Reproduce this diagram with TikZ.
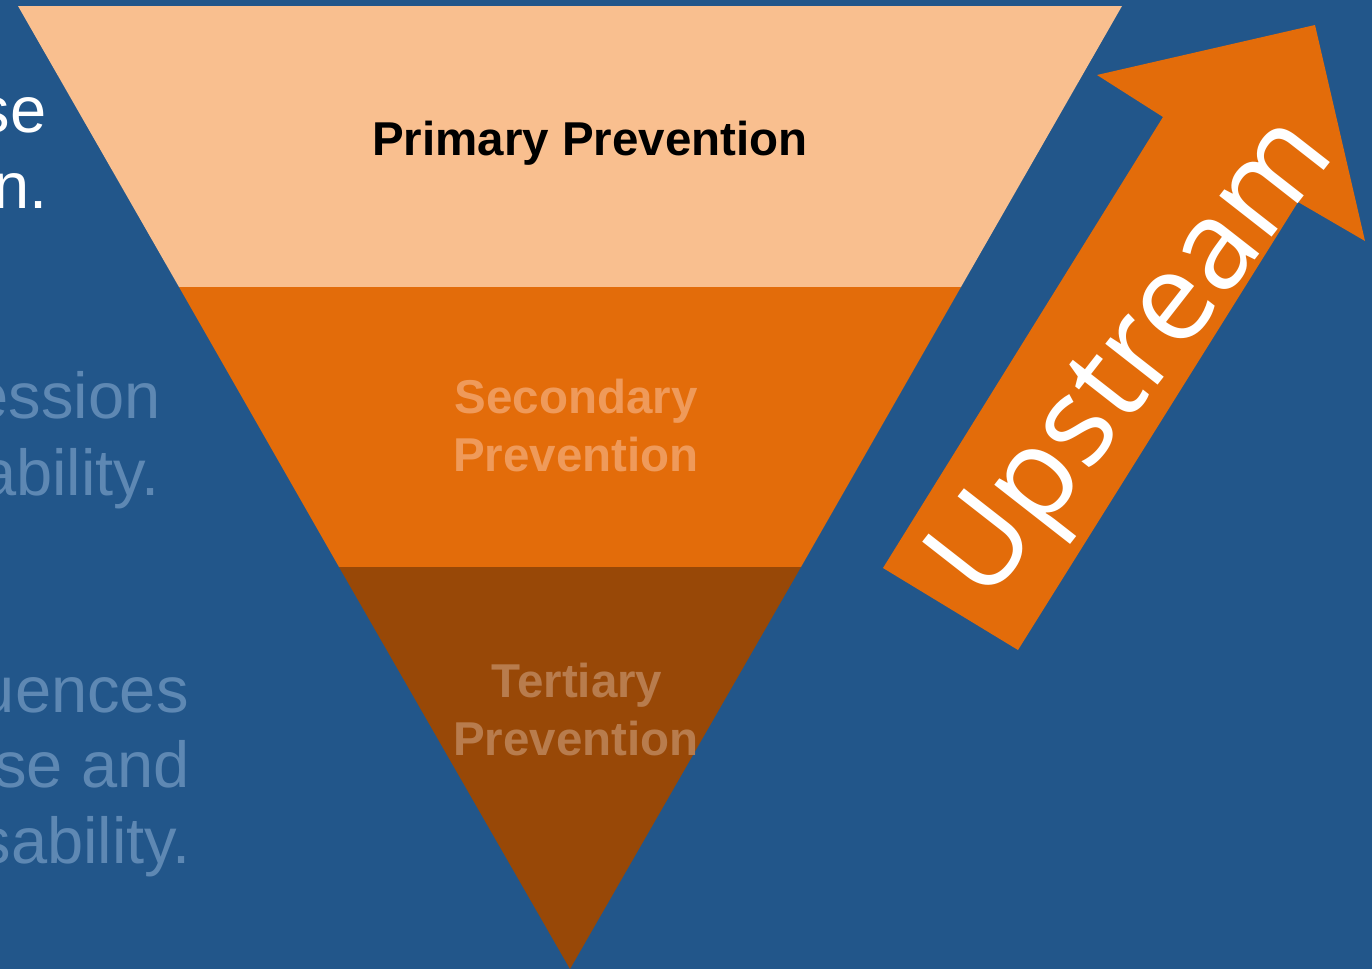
\documentclass[tikz,border=0pt]{standalone}
\usepackage{fontspec}
\setmainfont{Liberation Sans}
\newfontfamily\upfont{Open Sans}
\definecolor{bgblue}{HTML}{22568A}
\definecolor{peach}{HTML}{F9BF8F}
\definecolor{orng}{HTML}{E36C0A}
\definecolor{brwn}{HTML}{984807}
\definecolor{sectxt}{HTML}{EF9A5A}
\definecolor{tertxt}{HTML}{B87C4D}
\definecolor{fadetxt}{HTML}{5E88B3}
\tikzset{
  lefttxt/.style={anchor=base east, inner sep=0pt, font=\fontsize{32.5pt}{39pt}\selectfont},
  bandtxt/.style={anchor=base, inner sep=0pt, font=\bfseries\fontsize{23.75pt}{28pt}\selectfont},
  uptxt/.style={inner sep=0pt, text=white, font=\upfont\fontsize{62pt}{68pt}\selectfont},
}
\begin{document}
\begin{tikzpicture}[x=0.5pt,y=-0.5pt]
\useasboundingbox (0,0) rectangle (1372,969);
\fill[bgblue] (0,0) rectangle (1372,969);
% left texts
\node[lefttxt, text=white] (l1) at (47,132) {se};
\node[lefttxt, text=white] (l2) at (48,208) {n.};
\node[lefttxt, text=fadetxt] (l3) at (161,418) {ession};
\node[lefttxt, text=fadetxt] (l4) at (160,495) {ability.};
\node[lefttxt, text=fadetxt] (l5) at (189,712) {uences};
\node[lefttxt, text=fadetxt] (l6) at (190,787) {se and};
\node[lefttxt, text=fadetxt] (l7) at (191,863) {sability.};
% funnel
\fill[peach] (18,6) -- (1122,6) -- (961,287) -- (179,287) -- cycle;
\fill[orng] (179,287) -- (961,287) -- (801,567) -- (339,567) -- cycle;
\fill[brwn] (339,567) -- (801,567) -- (570,969) -- cycle;
\node[bandtxt, text=black] (prim) at (590,155) {Primary Prevention};
\node[bandtxt, text=sectxt] (sec1) at (576,413) {Secondary};
\node[bandtxt, text=sectxt] (sec2) at (576,471) {Prevention};
\node[bandtxt, text=tertxt] (ter1) at (577,697) {Tertiary};
\node[bandtxt, text=tertxt] (ter2) at (576,755) {Prevention};
% upstream arrow
\fill[orng] (883,568) -- (1163,117) -- (1097,75) -- (1315,25) -- (1365,241) -- (1298,202) -- (1018,650) -- cycle;
\node[uptxt, rotate=52] (up) at (1138,362) {Upstream};
\end{tikzpicture}
\end{document}
